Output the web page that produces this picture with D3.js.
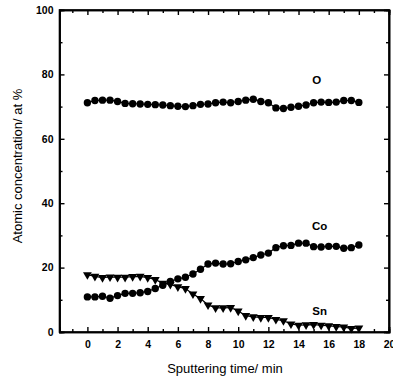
<!DOCTYPE html>
<html><head><meta charset="utf-8">
<script src="https://cdn.jsdelivr.net/npm/d3@7"></script>
<style>body{margin:0;background:#fff}svg{display:block}</style>
</head><body>
<svg id="c" width="393" height="380"></svg>
<script>
const times = d3.range(0, 18.01, 0.5);
const oValues = [71.2,71.9,72.0,72.0,71.6,71.0,70.9,70.8,70.7,70.6,70.5,70.3,70.1,70.0,70.3,70.7,70.8,71.2,71.4,
  71.2,71.6,72.0,72.3,71.6,71.2,69.6,69.4,69.8,70.1,70.5,71.2,71.4,71.3,71.4,71.9,71.9,71.3];
const coValues = [10.9,10.9,11.1,10.5,11.3,12.0,12.0,12.2,12.6,13.5,14.5,15.7,16.5,17.0,18.0,19.5,21.1,21.4,21.1,
  21.2,21.9,22.4,23.1,23.9,24.5,26.2,26.8,26.9,27.6,27.6,26.5,26.4,26.6,26.6,26.0,26.2,27.0];
const snValues = [17.8,17.3,16.9,17.1,17.0,17.0,17.2,17.3,16.9,16.3,15.1,14.8,14.0,13.5,11.8,10.4,8.4,7.5,7.5,
  7.6,6.5,5.1,4.7,4.5,4.5,3.9,3.5,2.5,2.1,2.2,2.3,2.1,1.9,1.7,1.5,1.1,1.2];
const xTicks = [0,2,4,6,8,10,12,14,16,18,20];
const yTicks = [0,20,40,60,80,100];
const seriesLabels = ["O","Co","Sn"];

(function () {
const svg = d3.select("#c");
const x = d3.scaleLinear().domain([-1.85, 20]).range([59.5, 389]);
const y = d3.scaleLinear().domain([0, 100]).range([332, 10]);
const font = "'Liberation Sans', Arial, sans-serif";

// frame
svg.append("rect").attr("x", x(-1.85)).attr("y", y(100))
  .attr("width", x(20) - x(-1.85)).attr("height", y(0) - y(100))
  .attr("fill", "none").attr("stroke", "#000").attr("stroke-width", 1.6);

// axes with inward ticks
svg.append("g").attr("transform", `translate(0,${y(0)})`)
  .call(d3.axisBottom(x).tickValues(xTicks).tickSize(-5).tickPadding(9).tickFormat(d3.format("d")));
svg.append("g").attr("transform", `translate(${x(-1.85)},0)`)
  .call(d3.axisLeft(y).tickValues(yTicks).tickSize(-5).tickPadding(6).tickFormat(d3.format("d")));
svg.append("g").attr("transform", `translate(0,${y(100)})`)
  .call(d3.axisTop(x).tickValues(xTicks).tickSize(-5).tickFormat(""));
svg.append("g").attr("transform", `translate(${x(20)},0)`)
  .call(d3.axisRight(y).tickValues(yTicks).tickSize(-5).tickFormat(""));
// minor ticks
const xMinor = d3.range(-1, 20, 2);
const yMinor = d3.range(10, 100, 20);
svg.append("g").attr("transform", `translate(0,${y(0)})`).call(d3.axisBottom(x).tickValues(xMinor).tickSize(-3).tickFormat(""));
svg.append("g").attr("transform", `translate(0,${y(100)})`).call(d3.axisTop(x).tickValues(xMinor).tickSize(-3).tickFormat(""));
svg.append("g").attr("transform", `translate(${x(-1.85)},0)`).call(d3.axisLeft(y).tickValues(yMinor).tickSize(-3).tickFormat(""));
svg.append("g").attr("transform", `translate(${x(20)},0)`).call(d3.axisRight(y).tickValues(yMinor).tickSize(-3).tickFormat(""));

svg.selectAll(".domain").attr("stroke", "#000").attr("stroke-width", 1.6);
svg.selectAll(".tick line").attr("stroke", "#000").attr("stroke-width", 1.4);
svg.selectAll(".tick text").attr("font-family", font).attr("font-size", 10.5)
  .attr("font-weight", "bold").attr("fill", "#000");

// axis titles
svg.append("text").attr("x", 225).attr("y", 373).attr("text-anchor", "middle")
  .attr("font-family", font).attr("font-size", 13).text("Sputtering time/ min");
svg.append("text").attr("transform", "translate(22,166) rotate(-90)").attr("text-anchor", "middle")
  .attr("font-family", font).attr("font-size", 13).text("Atomic concentration/ at %");

// series
const line = d3.line().x((d, i) => x(times[i])).y(d => y(d));
[oValues, coValues, snValues].forEach(vals => {
  svg.append("path").datum(vals).attr("d", line).attr("fill", "none")
    .attr("stroke", "#000").attr("stroke-width", 1.2);
});
[oValues, coValues].forEach(vals => {
  svg.append("g").selectAll("circle").data(vals).join("circle")
    .attr("cx", (d, i) => x(times[i])).attr("cy", d => y(d)).attr("r", 3.7).attr("fill", "#000");
});
const tri = d3.symbol().type(d3.symbolTriangle).size(34);
svg.append("g").selectAll("path").data(snValues).join("path")
  .attr("d", tri).attr("transform", (d, i) => `translate(${x(times[i])},${y(d)}) rotate(180)`)
  .attr("fill", "#000");

// series labels
const labelPos = [[15.2, 77.0], [15.4, 31.7], [15.4, 5.4]];
seriesLabels.forEach((t, i) => {
  svg.append("text").attr("x", x(labelPos[i][0])).attr("y", y(labelPos[i][1]))
    .attr("text-anchor", "middle").attr("font-family", font).attr("font-size", 11.5)
    .attr("font-weight", "bold").text(t);
});
})();
</script>
</body></html>
